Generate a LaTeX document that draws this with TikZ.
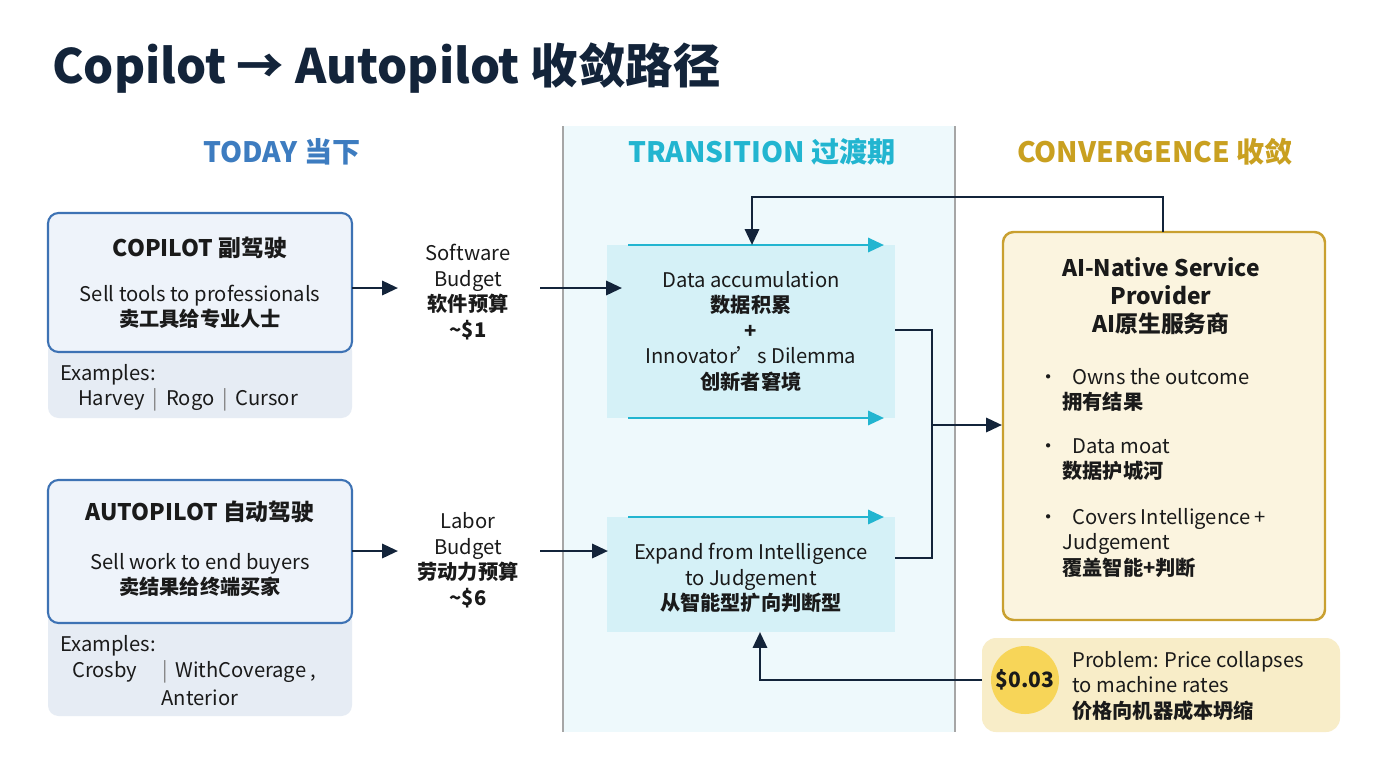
\documentclass[tikz,border=0pt]{standalone}
\usepackage{fontspec}
\setmainfont{Noto Sans CJK SC}
\usetikzlibrary{arrows.meta}
\definecolor{navy}{HTML}{13243A}
\definecolor{tblue}{HTML}{3D7CC0}
\definecolor{tcyan}{HTML}{22B5D0}
\definecolor{tgold}{HTML}{C9A020}
\definecolor{bbord}{HTML}{3D72B4}
\definecolor{bfill}{HTML}{EEF3FA}
\definecolor{efill}{HTML}{E6ECF4}
\definecolor{band}{HTML}{EEF9FC}
\definecolor{cfill}{HTML}{D5F1F7}
\definecolor{gfill}{HTML}{FBF4DF}
\definecolor{gbord}{HTML}{C9A030}
\definecolor{pfill}{HTML}{F8EDC8}
\definecolor{coin}{HTML}{F7D558}
\definecolor{txt}{HTML}{1A1A1A}
\begin{document}
\begin{tikzpicture}[x=0.02cm,y=-0.02cm,
  conn/.style={line width=1.6pt,draw=navy,-{Triangle[length=9pt,width=8pt]}},
  cy/.style={line width=1.5pt,draw=tcyan,-{Triangle[length=9pt,width=8pt]}},
  hdr/.style={font=\bfseries\fontsize{16}{18}\selectfont},
  body/.style={font=\fontsize{11.5}{14.5}\selectfont,text=txt,align=center},
  pbox/.style={draw=bbord,line width=1.2pt,fill=bfill,rounded corners=6pt},
  ebox/.style={fill=efill,rounded corners=6pt,draw=none}]
\useasboundingbox (0,0) rectangle (1376,768);
\fill[white] (0,0) rectangle (1376,768);
% band
\fill[band] (563,126) rectangle (955,732);
\draw[gray!70,line width=0.8pt] (563,126) -- (563,732) (955,126) -- (955,732);
% title
\node[anchor=west,text=navy,font=\bfseries\fontsize{27}{30}\selectfont] (title) at (46,68) {Copilot → Autopilot 收敛路径};
\node[hdr,text=tblue] (h1) at (282,152) {TODAY 当下};
\node[hdr,text=tcyan] (h2) at (762,152) {TRANSITION 过渡期};
\node[hdr,text=tgold] (h3) at (1155,152) {CONVERGENCE 收敛};
% copilot
\draw[ebox] (48,340) rectangle (352,418);
\draw[pbox] (48,213) rectangle (352,352);
\node[font=\bfseries\fontsize{13}{15}\selectfont,text=txt] (cpt) at (200,248) {COPILOT 副驾驶};
\node[body] (cp) at (200,307) {Sell tools to professionals\\ \bfseries 卖工具给专业人士};
\node[anchor=west,body] (ex1) at (54,375) {Examples:};
\node[body,anchor=west] (ex1b) at (72,400) {Harvey \,\textcolor{gray}{|}\, Rogo \,\textcolor{gray}{|}\, Cursor};
% autopilot
\draw[ebox] (48,610) rectangle (352,716);
\draw[pbox] (48,480) rectangle (352,623);
\node[font=\bfseries\fontsize{13}{15}\selectfont,text=txt] (apt) at (200,512) {AUTOPILOT 自动驾驶};
\node[body] (ap) at (200,575) {Sell work to end buyers\\ \bfseries 卖结果给终端买家};
\node[anchor=west,body] (ex2) at (54,646) {Examples:};
\node[body,anchor=west] (ex2b) at (66,672) {Crosby \quad\textcolor{gray}{|}\, WithCoverage ,};
\node[body] (ex2c) at (200,698) {Anterior};
% budgets
\node[body] (sb) at (468,292) {Software\\Budget\\ \bfseries 软件预算\\ \bfseries \textasciitilde\$1};
\node[body] (lb) at (468,560) {Labor\\Budget\\ \bfseries 劳动力预算\\ \bfseries \textasciitilde\$6};
\coordinate (c1a) at (352,288); \coordinate (c1b) at (398,288);
\coordinate (c2a) at (352,551); \coordinate (c2b) at (398,551);
\draw[conn] (c1a) -- (c1b);
\draw[conn] (c2a) -- (c2b);
% transition boxes
\fill[cfill] (607,245) rectangle (895,418);
\node[body] (data) at (751,331) {Data accumulation\\ \bfseries 数据积累\\ \bfseries +\\ Innovator's Dilemma\\ \bfseries 创新者窘境};
\fill[cfill] (607,517) rectangle (895,632);
\node[body] (exp) at (751,578) {Expand from Intelligence\\to Judgement\\ \bfseries 从智能型扩向判断型};
\coordinate (t1a) at (628,245); \coordinate (t1b) at (884,245);
\coordinate (t2a) at (628,418); \coordinate (t2b) at (884,418);
\coordinate (t3a) at (628,517); \coordinate (t3b) at (884,517);
\draw[cy] (t1a) -- (t1b);
\draw[cy] (t2a) -- (t2b);
\draw[cy] (t3a) -- (t3b);
\coordinate (s1) at (540,288); \coordinate (d1) at (622,288);
\coordinate (s2) at (540,551); \coordinate (d2) at (608,551);
\draw[conn] (s1) -- (d1);
\draw[conn] (s2) -- (d2);
% AI native
\draw[draw=gbord,line width=1.4pt,fill=gfill,rounded corners=6pt] (1003,232) rectangle (1325,620);
\node[font=\bfseries\fontsize{13}{16}\selectfont,text=txt,align=center] (ai) at (1161,296) {AI-Native Service\\Provider\\AI原生服务商};
\node[body,anchor=north west,align=left] (b1) at (1032,362) {•\hspace{0.7em}Owns the outcome\\\hspace{1.2em}\bfseries 拥有结果};
\node[body,anchor=north west,align=left] (b2) at (1032,432) {•\hspace{0.7em}Data moat\\\hspace{1.2em}\bfseries 数据护城河};
\node[body,anchor=north west,align=left] (b3) at (1032,502) {•\hspace{0.7em}Covers Intelligence +\\\hspace{1.2em}Judgement\\\hspace{1.2em}\bfseries 覆盖智能+判断};
% merge
\coordinate (m1) at (895,330); \coordinate (m2) at (895,558);
\coordinate (mj) at (932,425); \coordinate (mt) at (1002,425);
\draw[line width=1.6pt,navy] (m1) -- (932,330) -- (932,558) -- (m2);
\draw[conn] (mj) -- (mt);
% feedback top
\coordinate (f0) at (1163,232); \coordinate (f1) at (752,245);
\draw[conn] (f0) -- (1163,197) -- (752,197) -- (f1);
% problem
\fill[pfill,rounded corners=8pt] (982,638) rectangle (1340,732);
\fill[coin] (1025,680) circle (34);
\node[font=\bfseries\fontsize{12}{14}\selectfont,text=txt] (coin) at (1025,680) {\$0.03};
\node[body,anchor=west,align=left] (pr) at (1066,686) {Problem: Price collapses\\to machine rates\\ \bfseries 价格向机器成本坍缩};
\coordinate (p0) at (982,680); \coordinate (p1) at (760,632);
\draw[conn] (p0) -- (760,680) -- (p1);
\end{tikzpicture}
\end{document}
